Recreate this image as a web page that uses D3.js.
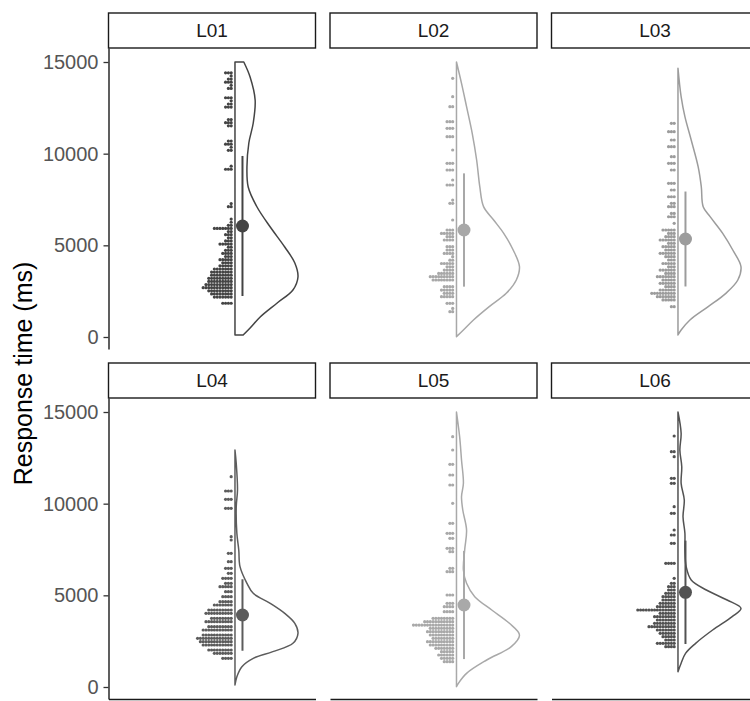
<!DOCTYPE html>
<html lang="en">

<head>
    <meta charset="UTF-8">
    <title>raincloud</title>
    <script src="https://d3js.org/d3.v7.min.js"></script>
    <style>
        body { margin: 0; background: #fff; }
        text { font-family: "Liberation Sans", Arial, sans-serif; }
    </style>
</head>

<body>
    <div class="canvas"></div>

    <script>
        // panels
        let labels = ["L01", "L02", "L03", "L04", "L05", "L06"];
        let colours = ["#444444", "#a8a8a8", "#9c9c9c", "#5c5c5c", "#a9a9a9", "#525252"];
        let yTicks = [0, 5000, 10000, 15000];

        // mean and sd of each panel (ms)
        let means = [6055, 5836, 5345, 3927, 4473, 5164];
        let sds = [3820, 3090, 2590, 1950, 2950, 2820];

        // half violin: [ms, relative density]
        let dens01 = [[15000, .14], [14182, .24], [12927, .32], [11673, .29], [10582, .22], [9273, .19], [8182, .21], [7091, .35],
        [6000, .56], [4909, .79], [4036, .95], [3273, 1], [2564, .92], [1855, .67], [1091, .40], [491, .24], [109, .13]];
        let dens02 = [[15000, 0], [13836, .08], [12564, .16], [11109, .25], [9655, .32], [8200, .37], [7109, .43], [6382, .59],
        [5655, .75], [4745, .90], [3836, 1], [3109, .95], [2382, .79], [1655, .52], [927, .27], [382, .11], [18, 0]];
        let dens03 = [[14655, 0], [13109, .05], [12018, .11], [10745, .21], [9291, .32], [8200, .37], [7109, .40], [6564, .51],
        [5655, .71], [4745, .87], [3836, 1], [3109, .95], [2382, .76], [1655, .48], [927, .19], [382, .05], [109, 0]];
        let dens04 = [[12927, 0], [12200, .02], [10745, .04], [9836, .02], [8382, .03], [7473, .06], [6564, .08], [5655, .19],
        [5109, .29], [4564, .56], [4018, .79], [3473, .95], [2927, 1], [2382, .92], [1927, .60], [1564, .29], [1109, .11], [564, .03], [109, 0]];
        let dens05 = [[15000, 0], [13655, .05], [12382, .08], [11109, .11], [10382, .08], [9655, .10], [8564, .16], [7473, .13],
        [6382, .11], [5655, .16], [4927, .29], [4200, .56], [3473, .84], [2836, 1], [2200, .87], [1473, .48], [745, .16], [200, .03], [18, 0]];
        let dens06 = [[15000, 0], [13836, .05], [12927, .03], [12018, .06], [11109, .05], [10200, .10], [9291, .08], [8382, .11],
        [7473, .11], [6564, .13], [5836, .21], [5291, .45], [4745, .78], [4291, 1], [3836, .86], [3109, .55], [2382, .28], [1836, .12], [1291, .05], [836, 0]];

        // dot histogram: [ms, number of dots]
        let dots01 = [[1840, 4], [2180, 7], [2350, 8], [2520, 9], [2690, 11], [2860, 10], [3030, 9], [3200, 9], [3370, 8], [3540, 8],
        [3710, 7], [3880, 5], [4050, 4], [4220, 5], [4390, 3], [4560, 4], [4730, 3], [4900, 2], [5070, 5], [5240, 3], [5410, 2],
        [5580, 3], [5750, 2], [5920, 7], [6090, 2], [6260, 1], [6430, 1], [7110, 2], [7280, 1], [9150, 3], [9320, 1], [10180, 2],
        [10350, 1], [10520, 3], [10690, 2], [11520, 2], [11690, 3], [11860, 2], [12540, 3], [12710, 2], [12880, 1], [13050, 3],
        [13560, 2], [13730, 1], [13900, 3], [14070, 2], [14240, 1], [14410, 3]];
        let dots02 = [[1380, 2], [1560, 1], [1836, 3], [2200, 5], [2380, 4], [2560, 5], [2745, 4], [3109, 8], [3290, 9], [3470, 6],
        [3650, 4], [3830, 3], [4010, 5], [4190, 2], [4380, 1], [4560, 4], [4745, 3], [4927, 3], [5290, 4], [5470, 3], [5650, 5],
        [5836, 3], [6382, 1], [7290, 2], [7470, 1], [8290, 3], [8564, 1], [9109, 3], [9473, 3], [10200, 1], [10927, 3],
        [11382, 3], [11745, 3], [12564, 2], [13109, 1], [14109, 1]];
        let dots03 = [[1655, 2], [2020, 5], [2200, 7], [2380, 9], [2564, 6], [2745, 4], [2927, 6], [3109, 5], [3290, 7], [3470, 4],
        [3650, 6], [3830, 3], [4010, 5], [4200, 3], [4380, 4], [4564, 6], [4745, 4], [4927, 5], [5109, 3], [5290, 6], [5470, 4],
        [5650, 3], [5836, 5], [6200, 1], [6560, 3], [6740, 2], [7109, 3], [7290, 2], [7650, 3], [8018, 2], [8382, 3],
        [9109, 2], [9473, 3], [9836, 2], [10380, 3], [10745, 2], [11200, 3], [11655, 2]];
        let dots04 = [[1564, 4], [1836, 7], [2018, 9], [2291, 11], [2473, 12], [2655, 13], [2836, 11], [3109, 11], [3290, 9],
        [3564, 10], [3745, 8], [4018, 10], [4200, 9], [4473, 7], [4655, 5], [4927, 4], [5200, 3], [5473, 5], [5655, 3], [5927, 4],
        [6200, 2], [6473, 3], [6836, 2], [7290, 2], [8018, 1], [8200, 1], [9745, 3], [10236, 3], [10690, 3], [11473, 1]];
        let dots05 = [[1382, 4], [1564, 5], [1745, 6], [1927, 5], [2109, 7], [2291, 9], [2473, 10], [2655, 8], [2836, 9], [3018, 10],
        [3200, 9], [3380, 15], [3564, 11], [3745, 8], [4109, 4], [4382, 4], [4564, 3], [5018, 3], [6291, 3], [6473, 2],
        [7382, 2], [7564, 3], [8109, 2], [8382, 3], [8927, 2], [10018, 1], [11018, 2], [11564, 2], [12145, 2], [12927, 1], [13655, 1]];
        let dots06 = [[2200, 4], [2382, 7], [2564, 4], [2745, 5], [2927, 6], [3109, 7], [3291, 10], [3473, 8], [3655, 7], [3836, 8],
        [4018, 6], [4200, 14], [4382, 7], [4564, 6], [4745, 5], [4927, 5], [5109, 4], [5291, 3], [5473, 3], [5655, 2], [5927, 1],
        [6745, 4], [7836, 2], [8291, 2], [8564, 1], [9473, 2], [9836, 1], [11109, 2], [11382, 2], [12564, 1], [12837, 2], [13691, 1]];

        let densities = [dens01, dens02, dens03, dens04, dens05, dens06];
        let dotsets = [dots01, dots02, dots03, dots04, dots05, dots06];

        // layout
        let panelW = 207, panelH = 301;
        let colX = [108.5, 330, 551.5];
        let rowY = [48, 398];
        let stripH = 35;
        let violinW = 63;
        let dotR = 1.6, dotStep = 2.8;

        let svg = d3.select(".canvas").append("svg")
            .attr("width", 750)
            .attr("height", 701);

        let y = d3.scaleLinear().domain([-655, 15764]).range([panelH, 0]);
        let x = d3.scaleLinear().domain([0.5, 1.5]).range([0, panelW]);
        let w = d3.scaleLinear().domain([0, 1]).range([0, violinW]);
        let cloudX = 1.111;

        // y title
        svg.append("text")
            .attr("transform", "translate(32," + (rowY[0] + (rowY[1] + panelH - rowY[0]) / 2) + ") rotate(-90)")
            .attr("text-anchor", "middle")
            .attr("font-size", "25px")
            .attr("fill", "#000")
            .text("Response time (ms)");

        labels.forEach((lab, i) => {
            let col = i % 3, row = Math.floor(i / 3);
            let g = svg.append("g")
                .attr("transform", "translate(" + colX[col] + "," + rowY[row] + ")");
            let c = colours[i];
            let cx = x(cloudX);

            // strip
            g.append("rect")
                .attr("x", 0).attr("y", -stripH)
                .attr("width", panelW).attr("height", stripH)
                .attr("fill", "#fff").attr("stroke", "#1a1a1a").attr("stroke-width", 1.4);
            g.append("text")
                .attr("x", panelW / 2).attr("y", -stripH / 2)
                .attr("dy", "0.36em")
                .attr("text-anchor", "middle")
                .attr("font-size", "19px")
                .attr("fill", "#1a1a1a")
                .text(lab);

            // half violin
            let area = d3.area()
                .y(d => y(d[0]))
                .x0(cx)
                .x1(d => cx + w(d[1]))
                .curve(d3.curveCatmullRom.alpha(0.5));
            g.append("path")
                .datum(densities[i])
                .attr("d", area)
                .attr("fill", "none")
                .attr("stroke", c)
                .attr("stroke-width", 1.5)
                .attr("stroke-linejoin", "round");

            // dots
            let pts = [];
            dotsets[i].forEach(d => {
                for (let k = 0; k < d[1]; k++) pts.push({ v: d[0], k: k });
            });
            g.selectAll(".dot").data(pts).enter().append("circle")
                .attr("class", "dot")
                .attr("cx", d => cx - 3.8 - d.k * dotStep)
                .attr("cy", d => y(d.v))
                .attr("r", dotR)
                .attr("fill", c);

            // mean +- sd
            let mx = cx + 7.5;
            g.append("line")
                .attr("x1", mx).attr("x2", mx)
                .attr("y1", y(means[i] - sds[i])).attr("y2", y(means[i] + sds[i]))
                .attr("stroke", c).attr("stroke-width", 2);
            g.append("circle")
                .attr("cx", mx).attr("cy", y(means[i]))
                .attr("r", 6.5)
                .attr("fill", c);

            // axes
            if (col == 0) {
                let ax = g.append("g")
                    .call(d3.axisLeft(y).tickValues(yTicks).tickFormat(d3.format("d"))
                        .tickSize(5).tickSizeOuter(0).tickPadding(5));
                ax.selectAll("text").attr("font-size", "20px").attr("fill", "#555").style("font-family", "Liberation Sans, Arial, sans-serif");
                ax.selectAll("line").attr("stroke", "#333").attr("stroke-width", 1.3);
                ax.select(".domain").attr("stroke", "#1a1a1a").attr("stroke-width", 1.4);
            }
            if (row == 1) {
                let bx = g.append("g")
                    .attr("transform", "translate(0," + panelH + ")")
                    .call(d3.axisBottom(x).tickValues([]).tickSizeOuter(0));
                bx.select(".domain").attr("stroke", "#1a1a1a").attr("stroke-width", 1.4);
            }
        });
    </script>
</body>

</html>
